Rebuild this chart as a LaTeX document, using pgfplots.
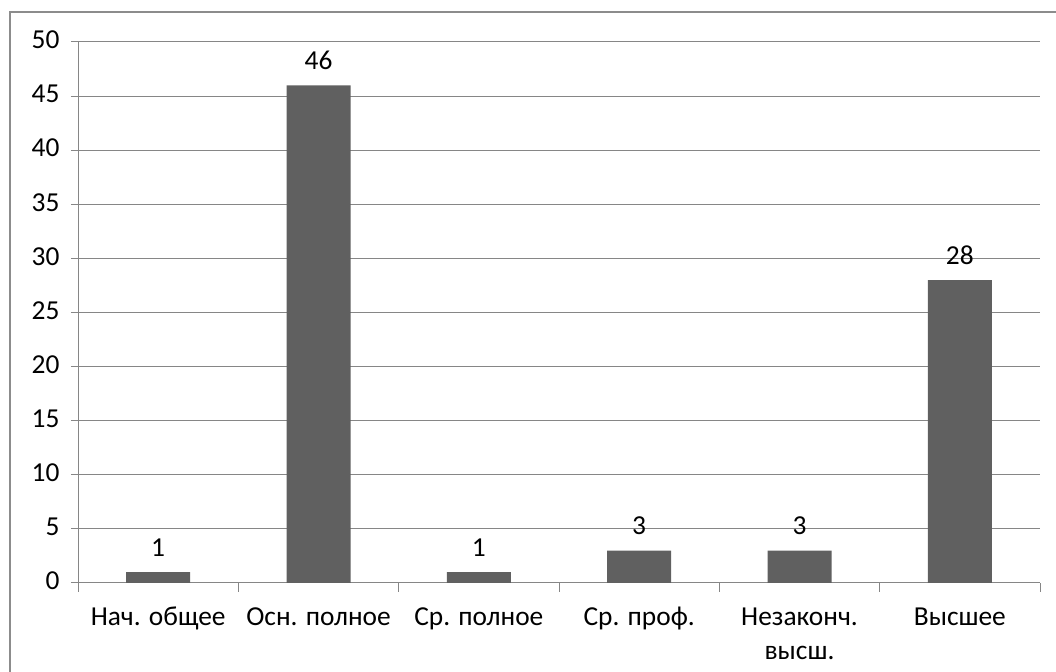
\documentclass[border=0pt]{standalone}
\usepackage{pgfplots}
\pgfplotsset{compat=1.18}
\usepackage{fontspec}
\setmainfont{Carlito}
\definecolor{barc}{HTML}{606060}
\definecolor{gridc}{HTML}{868686}
\definecolor{framec}{HTML}{8C8C8C}
\begin{document}
\begin{tikzpicture}[x=1bp,y=1bp]
\useasboundingbox (0,0) rectangle (1056,672);
\draw[framec, line width=2bp] (10,-10) -- (10,660) -- (1070,660);
\begin{axis}[
  at={(78bp,89bp)}, anchor=south west,
  scale only axis, width=962bp, height=541bp,
  xmin=-0.5, xmax=5.5, ymin=0, ymax=50,
  ytick={0,5,...,50},
  xtick={0,...,5},
  xticklabels={{Нач. общее},{Осн. полное},{Ср. полное},{Ср. проф.},{Незаконч.\\высш.},{Высшее}},
  minor xtick={-0.5,0.5,...,5.5},
  tick align=outside,
  major tick length=7bp, minor tick length=9bp,
  xtick style={draw=none},
  minor x tick style={draw=gridc, line width=1bp},
  ytick style={draw=gridc, line width=1bp},
  axis x line*=bottom, axis y line*=left,
  axis line style={draw=gridc, line width=1bp, -},
  ymajorgrids, grid style={draw=gridc, line width=1bp},
  ybar, bar width=64bp,
  /pgf/number format/assume math mode=true,
  ticklabel style={font=\fontsize{27.5}{34}\selectfont, text=black},
  xticklabel style={align=center, yshift=-8bp},
  typeset ticklabels with strut,
  yticklabel style={xshift=-8bp},
  nodes near coords,
  every node near coord/.append style={font=\fontsize{27.5}{32}\selectfont, text=black, yshift=12bp},
]
\addplot[fill=barc, draw=none] coordinates {(0,1) (1,46) (2,1) (3,3) (4,3) (5,28)};
\end{axis}
\end{tikzpicture}
\end{document}
